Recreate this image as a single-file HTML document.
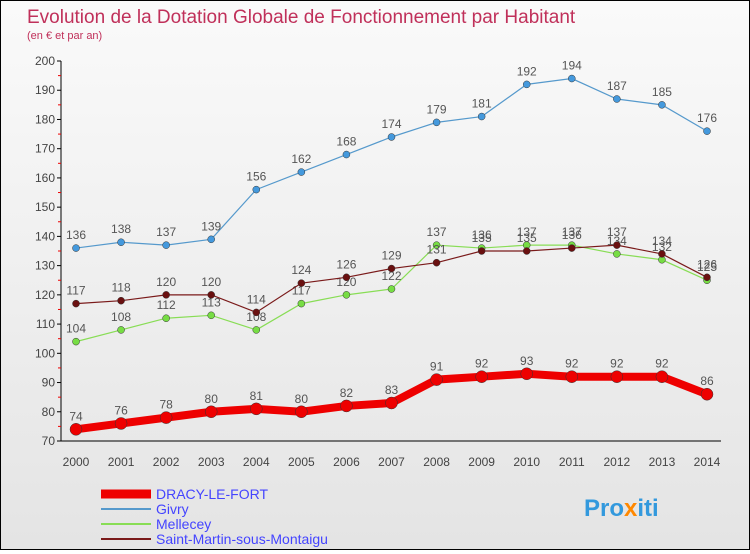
<!DOCTYPE html>
<html><head><meta charset="utf-8"><style>
body{margin:0}
#c{width:748px;height:548px;border:1px solid #000;background:linear-gradient(#fafafa,#e4e4e4);position:relative;font-family:"Liberation Sans",sans-serif}
text{font-family:"Liberation Sans",sans-serif}
</style></head><body>
<div id="c">
<svg id="s" width="748" height="548">
<text x="26" y="22" font-size="19" fill="#c0305a">Evolution de la Dotation Globale de Fonctionnement par Habitant</text>
<text x="26" y="38" font-size="11" fill="#c0305a">(en € et par an)</text>
<line x1="60" y1="60" x2="60" y2="440" stroke="#000"/>
<line x1="60" y1="440" x2="720" y2="440" stroke="#000"/>
<g id="g"></g>
<g>
<line x1="100" y1="493" x2="150" y2="493" stroke="#e00" stroke-width="9"/>
<text x="155" y="498" font-size="14" fill="#44f">DRACY-LE-FORT</text>
<line x1="100" y1="508" x2="150" y2="508" stroke="#5599cc" stroke-width="2"/>
<text x="155" y="513" font-size="14" fill="#44f">Givry</text>
<line x1="100" y1="523" x2="150" y2="523" stroke="#88dd55" stroke-width="2"/>
<text x="155" y="528" font-size="14" fill="#44f">Mellecey</text>
<line x1="100" y1="538" x2="150" y2="538" stroke="#7a1a1a" stroke-width="2"/>
<text x="155" y="543" font-size="14" fill="#44f">Saint-Martin-sous-Montaigu</text>
</g>
<text x="583" y="515" font-size="24" font-weight="bold" fill="#3399dd">Pro<tspan fill="#f80">x</tspan>iti</text>
</svg></div>
<script>
const years=[2000,2001,2002,2003,2004,2005,2006,2007,2008,2009,2010,2011,2012,2013,2014];
const dracy=[74,76,78,80,81,80,82,83,91,92,93,92,92,92,86];
const givry=[136,138,137,139,156,162,168,174,179,181,192,194,187,185,176];
const mellecey=[104,108,112,113,108,117,120,122,137,136,137,137,134,132,125];
const stmartin=[117,118,120,120,114,124,126,129,131,135,135,136,137,134,126];
const yTicks=[70,80,90,100,110,120,130,140,150,160,170,180,190,200];
const NS="http://www.w3.org/2000/svg";
const g=document.getElementById('g');
const X=i=>75+i*(706-75)/(years.length-1);
const Y=v=>440-(v-70)*380/130;
function mk(t,a){const e=document.createElementNS(NS,t);for(const k in a)e.setAttribute(k,a[k]);g.appendChild(e);return e;}
yTicks.forEach(v=>{
 const l=mk('line',{x1:56,x2:60,y1:Y(v),y2:Y(v),stroke:'#000'});
 
 
 if(v<200){const m=mk('line',{x1:57,x2:60,y1:Y(v+5),y2:Y(v+5),stroke:'#e00'});
 
 }
 const t=mk('text',{x:54,y:Y(v)+4,'font-size':12,'text-anchor':'end',fill:'#444'});t.textContent=v;
 
 
});
years.forEach((yr,i)=>{
 const t=mk('text',{x:X(i),y:465,'font-size':12,'text-anchor':'middle',fill:'#444'});t.textContent=yr;
 
 
});
function series(data,color,w,r,name,dot){
 const p=mk('polyline',{points:data.map((v,i)=>X(i)+','+Y(v)).join(' '),fill:'none',stroke:color,'stroke-width':w});
 
 
 data.forEach((v,i)=>{
  const c=mk('circle',{cx:X(i),cy:Y(v),r:r,fill:dot,stroke:'#333','stroke-width':0.5});
  
  
  const t=mk('text',{x:X(i),y:Y(v)-9,'font-size':12,'text-anchor':'middle',fill:'#555'});t.textContent=v;
  
  
 });
}
series(givry,'#5599cc',1.2,3.5,'givry','#4499dd');
series(mellecey,'#88dd55',1.2,3.5,'mellecey','#77dd44');
series(stmartin,'#7a1a1a',1.2,3.5,'saint-martin','#6a1010');
series(dracy,'#e00',8,6,'dracy','#e00');
</script>
</body></html>
